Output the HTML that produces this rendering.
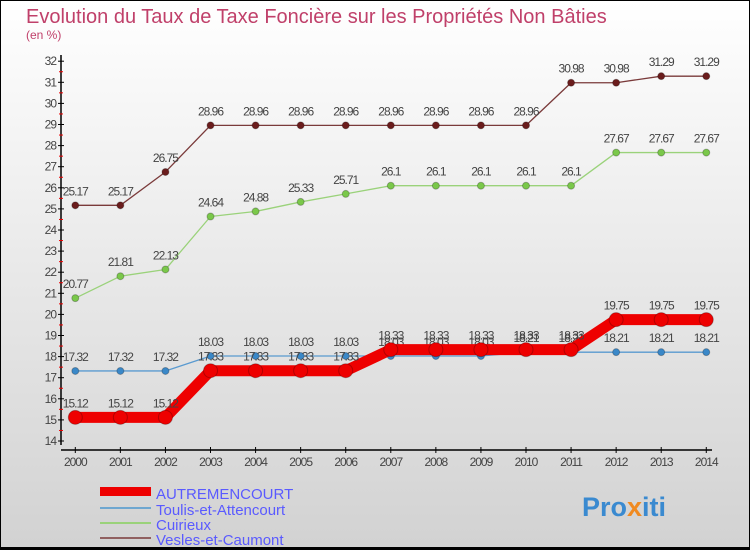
<!DOCTYPE html>
<html><head><meta charset="utf-8"><style>
body{margin:0}
#c{width:750px;height:550px;position:relative;box-sizing:border-box;border:1px solid #000;border-bottom:3px solid #000;background:linear-gradient(#fff,#d2d2d2);font-family:"Liberation Sans",sans-serif;overflow:hidden}
</style></head><body>
<div id="c">
<svg id="s" width="750" height="550" style="position:absolute;left:-1px;top:-1px">
<text x="26" y="23" font-size="20" fill="#c0406a">Evolution du Taux de Taxe Foncière sur les Propriétés Non Bâties</text>
<text x="26" y="39" font-size="12" fill="#c0406a">(en %)</text>
<g id="ax"></g><g id="plot"></g>
<g>
<rect x="100" y="487" width="51" height="9" fill="#e00"/>
<text x="156" y="499" font-size="15" fill="#5a5aff">AUTREMENCOURT</text>
<rect x="100" y="507" width="51" height="2" fill="#6fa7d0"/>
<text x="156" y="515" font-size="15" fill="#5a5aff">Toulis-et-Attencourt</text>
<rect x="100" y="522" width="51" height="2" fill="#9ad27a"/>
<text x="156" y="530" font-size="15" fill="#5a5aff">Cuirieux</text>
<rect x="100" y="537" width="51" height="2" fill="#906060"/>
<text x="156" y="545" font-size="15" fill="#5a5aff">Vesles-et-Caumont</text>
</g>
<text x="582" y="516" font-size="27" font-weight="bold" fill="#3a8ad0">Pro<tspan fill="#f08a20">x</tspan>iti</text>
</svg>
</div>
<script>
const years=[2000,2001,2002,2003,2004,2005,2006,2007,2008,2009,2010,2011,2012,2013,2014];
const autremencourt=[15.12,15.12,15.12,17.33,17.33,17.33,17.33,18.33,18.33,18.33,18.33,18.33,19.75,19.75,19.75];
const toulis=[17.32,17.32,17.32,18.03,18.03,18.03,18.03,18.03,18.03,18.03,18.21,18.21,18.21,18.21,18.21];
const cuirieux=[20.77,21.81,22.13,24.64,24.88,25.33,25.71,26.1,26.1,26.1,26.1,26.1,27.67,27.67,27.67];
const vesles=[25.17,25.17,26.75,28.96,28.96,28.96,28.96,28.96,28.96,28.96,28.96,30.98,30.98,31.29,31.29];
const yTicks=[14,15,16,17,18,19,20,21,22,23,24,25,26,27,28,29,30,31,32];
const NS="http://www.w3.org/2000/svg";
const X=i=>75.3+i*45.07;
const Y=v=>441-(v-14)*21.1;
function mk(t,a,p){const e=document.createElementNS(NS,t);for(const k in a)e.setAttribute(k,a[k]);p.appendChild(e);return e;}
const ax=document.getElementById('ax'),pl=document.getElementById('plot');
let l=mk('line',{x1:61,y1:55,x2:61,y2:445,stroke:'#000','stroke-width':1.5},ax);


l=mk('line',{x1:61,y1:450,x2:712,y2:450,stroke:'#000','stroke-width':1.5},ax);


yTicks.forEach(v=>{
 mk('line',{x1:58,x2:64,y1:Y(v),y2:Y(v),stroke:'#000'},ax);
 if(v<32)mk('line',{x1:59,x2:63,y1:Y(v+0.5),y2:Y(v+0.5),stroke:'#e00'},ax);
 const t=mk('text',{x:56,y:Y(v)+4,'font-size':12,fill:'#444','text-anchor':'end','letter-spacing':'-1'},ax);t.textContent=v;
 
 
});
years.forEach((y,i)=>{
 mk('line',{x1:X(i),x2:X(i),y1:447,y2:453,stroke:'#000'},ax);
 const t=mk('text',{x:X(i),y:466,'font-size':12,fill:'#444','text-anchor':'middle','letter-spacing':'-1'},ax);t.textContent=y;
 
 
});
function series(d,name,col,w,r,dot){
 const g=mk('g',{},pl);
 
 
 mk('polyline',{points:d.map((v,i)=>X(i)+','+Y(v)).join(' '),fill:'none',stroke:col,'stroke-width':w,'stroke-linejoin':'round'},g);
 d.forEach((v,i)=>{
  const c=mk('circle',{cx:X(i),cy:Y(v),r:r,fill:dot,stroke:'rgba(0,0,0,0.25)','stroke-width':1},g);
  
  
  const t=mk('text',{x:X(i),y:Y(v)-10,'font-size':12,fill:'#444','text-anchor':'middle','letter-spacing':'-1'},g);t.textContent=v;
  
  
 });
}
series(vesles,'vesles','#7a3a3a',1.3,3.5,'#6a1c1c');
series(cuirieux,'cuirieux','#9ad27a',1.3,3.5,'#7ac84a');
series(toulis,'toulis','#5a9ad0',1.3,3.5,'#3a88c8');
series(autremencourt,'autremencourt','#e00',11,7,'#e00');
</script>
</body></html>
